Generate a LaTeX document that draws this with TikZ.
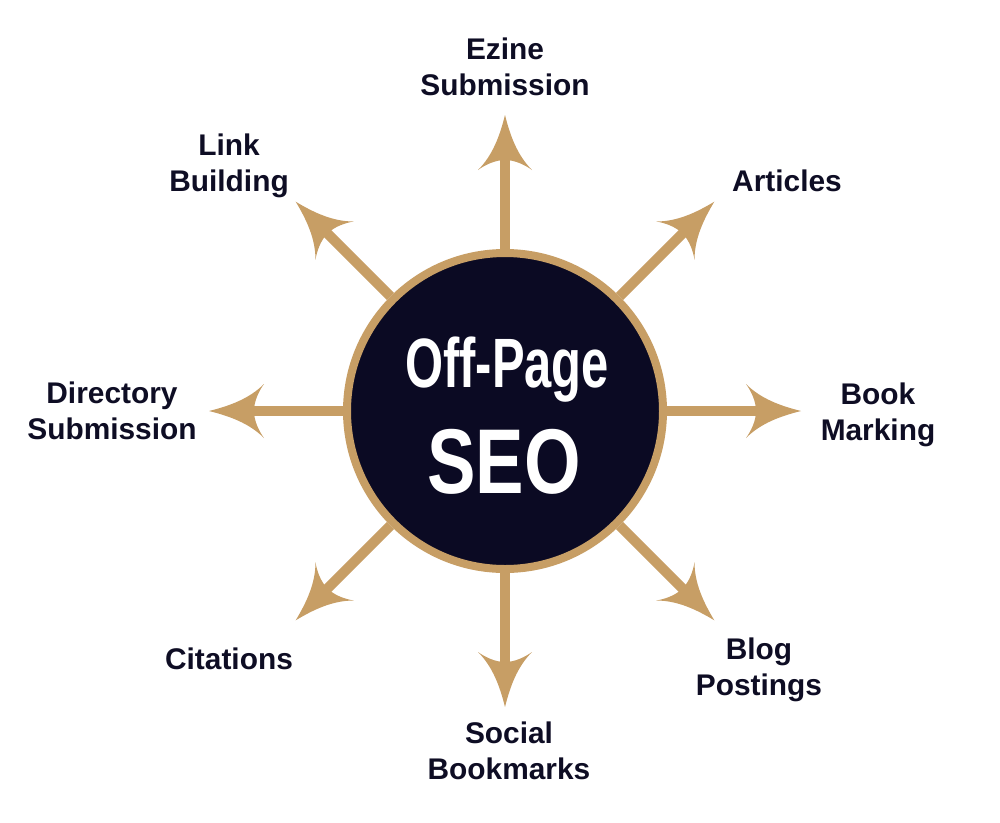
\documentclass[tikz,border=0pt]{standalone}
\usepackage{fontspec}
\setmainfont{Liberation Sans}
\newfontfamily\offfont{Liberation Sans}[FakeStretch=0.70]
\newfontfamily\seofont{Liberation Sans}[FakeStretch=0.79]
\definecolor{tanc}{HTML}{C79E65}
\definecolor{navy}{HTML}{0B0A23}
\definecolor{ink}{HTML}{0E0D24}
\pgfdeclarearrow{
  name = Barb,
  setup code = {
    \pgfarrowssettipend{0pt}
    \pgfarrowssetbackend{-41.25pt}
    \pgfarrowssetlineend{-30pt}
    \pgfarrowsupperhullpoint{0pt}{0pt}
    \pgfarrowsupperhullpoint{-41.25pt}{20.25pt}
  },
  drawing code = {
    \pgfpathmoveto{\pgfqpoint{0pt}{0pt}}
    \pgfpathcurveto{\pgfqpoint{-15pt}{3.75pt}}{\pgfqpoint{-30pt}{9pt}}{\pgfqpoint{-41.25pt}{20.25pt}}
    \pgfpathcurveto{\pgfqpoint{-37.5pt}{15pt}}{\pgfqpoint{-33.75pt}{7.5pt}}{\pgfqpoint{-33.75pt}{0pt}}
    \pgfpathcurveto{\pgfqpoint{-33.75pt}{-7.5pt}}{\pgfqpoint{-37.5pt}{-15pt}}{\pgfqpoint{-41.25pt}{-20.25pt}}
    \pgfpathcurveto{\pgfqpoint{-30pt}{-9pt}}{\pgfqpoint{-15pt}{-3.75pt}}{\pgfqpoint{0pt}{0pt}}
    \pgfpathclose
    \pgfusepathqfill
  }
}
\begin{document}
\begin{tikzpicture}[x=0.75pt,y=-0.75pt,
  arr/.style={color=tanc,line width=7.5pt,-{Barb}},
  lbl/.style={text=ink,font=\fontsize{22.4pt}{27pt}\selectfont\bfseries,align=center,inner sep=0pt},
  hub/.style={circle,draw=tanc,fill=navy,line width=6pt,minimum size=237pt,inner sep=0pt}]
\useasboundingbox (0,0) rectangle (1000,822);
\node[hub] (seo) at (505,411) {};
\node[text=white,anchor=base,inner sep=0pt,font=\offfont\bfseries\fontsize{52.4pt}{60pt}\selectfont] (offp) at (507,387) {Off-Page};
\node[text=white,anchor=base,inner sep=0pt,font=\seofont\bfseries\fontsize{69pt}{80pt}\selectfont] (seot) at (504,493) {SEO};
\coordinate (tN) at (505,115);
\coordinate (tNE) at (714.3,201.7);
\coordinate (tE) at (801,411);
\coordinate (tSE) at (714.3,620.3);
\coordinate (tS) at (505,707);
\coordinate (tSW) at (295.7,620.3);
\coordinate (tW) at (209,411);
\coordinate (tNW) at (295.7,201.7);
\foreach \t in {tN,tNE,tE,tSE,tS,tSW,tW,tNW}{\draw[arr] (seo) -- (\t);}
\node[lbl] (ezine) at (505,67) {Ezine\\Submission};
\node[lbl] (link) at (229,166) {Link\\Building};
\node[lbl] (articles) at (787,181) {Articles};
\node[lbl] (dir) at (112,411) {Directory\\Submission};
\node[lbl] (book) at (878,415) {Book\\Marking};
\node[lbl] (cit) at (229,659) {Citations};
\node[lbl] (blog) at (759,670) {Blog\\Postings};
\node[lbl] (social) at (509,751) {Social\\Bookmarks};
\end{tikzpicture}
\end{document}
